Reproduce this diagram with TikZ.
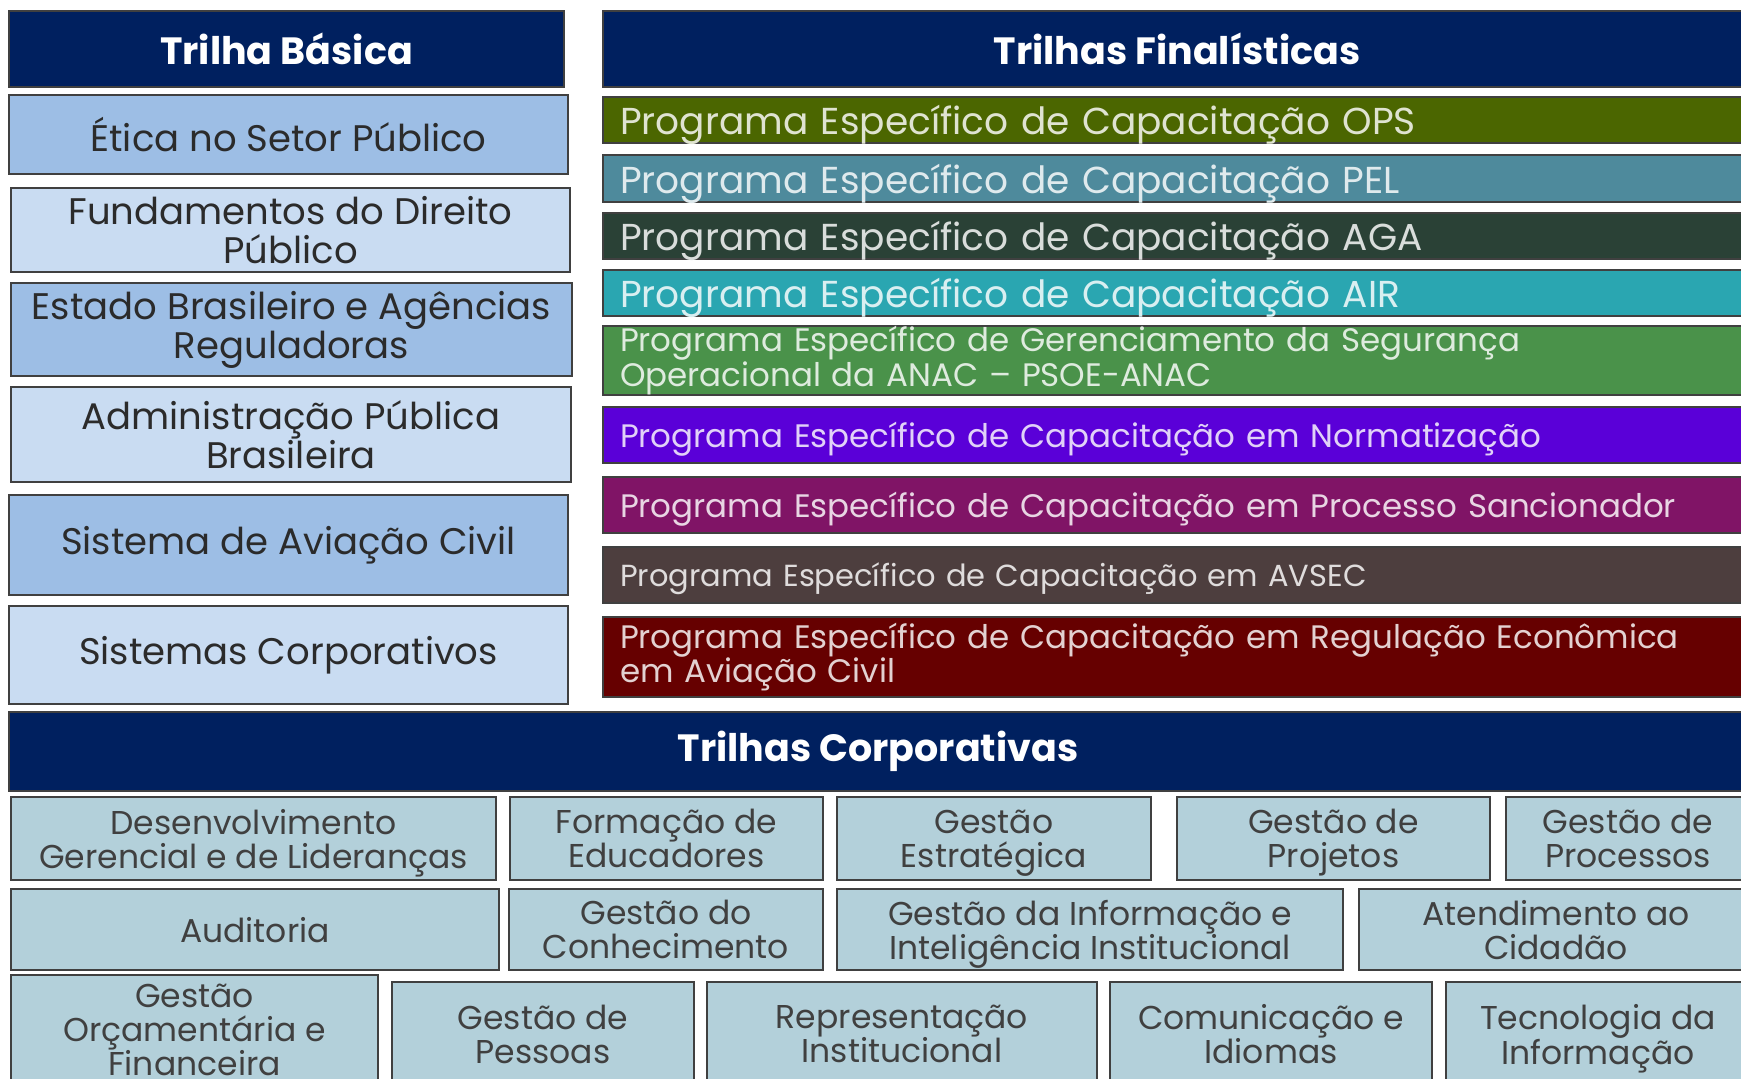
\documentclass[tikz,border=0pt]{standalone}
\usepackage{fontspec}
\setmainfont{Poppins}
\definecolor{navy}{HTML}{00205F}
\definecolor{bdark}{HTML}{9DBEE5}
\definecolor{blight}{HTML}{C9DCF2}
\definecolor{corpc}{HTML}{B3D0DA}
\definecolor{opsc}{HTML}{4B6600}
\definecolor{pelc}{HTML}{4E8A9C}
\definecolor{agac}{HTML}{2A4136}
\definecolor{airc}{HTML}{2AA6B1}
\definecolor{psoec}{HTML}{4A924A}
\definecolor{normc}{HTML}{5A00D8}
\definecolor{sancc}{HTML}{801466}
\definecolor{avsecc}{HTML}{4D3E3E}
\definecolor{regc}{HTML}{660000}
\definecolor{bord}{HTML}{404040}
\definecolor{txtd}{HTML}{2B2B2B}
\newcommand\bx[7]{%
  \pgfmathsetmacro\bw{#4-#2}\pgfmathsetmacro\bh{#5-#3}%
  \pgfmathsetmacro\bcx{(#2+#4)/2}\pgfmathsetmacro\bcy{(#3+#5)/2}%
  \node[#6, minimum width=\bw pt, minimum height=\bh pt] (#1) at (\bcx,\bcy) {#7};}
\tikzset{
  boxbase/.style={draw=bord, line width=2.5pt, rectangle, inner sep=0pt, align=center},
  hdr/.style={boxbase, fill=navy},
  hdrtext/.style={text=white, font=\bfseries\fontsize{38}{42}\selectfont, inner sep=0pt},
  basicd/.style={boxbase, fill=bdark, text=txtd, font=\fontsize{37}{39}\selectfont},
  basicl/.style={boxbase, fill=blight, text=txtd, font=\fontsize{37}{39}\selectfont},
  finbase/.style={boxbase, fill=#1, text=white!82!#1, align=left, text width=1123pt,
    inner xsep=17pt},
  fin/.style={finbase=#1, text depth=0pt, font=\fontsize{37.5}{40}\selectfont},
  fins/.style={finbase=#1, text depth=0pt, font=\fontsize{32.5}{33}\selectfont},
  fintwo/.style={finbase=#1, font=\fontsize{32.5}{33}\selectfont},
  corp/.style={boxbase, fill=corpc, text=txtd!90!white, text depth=0pt, font=\fontsize{33}{34}\selectfont},
  corptext/.style={text=txtd!90!white, font=\fontsize{33}{34}\selectfont, align=center, inner sep=0pt, text depth=0pt}
}
\begin{document}
\begin{tikzpicture}[x=1pt,y=-1pt]
\useasboundingbox (0,0) rectangle (1741,1079);
\clip (0,0) rectangle (1741,1079);
% Trilha Basica
\bx{hb}{9}{11}{564}{87}{hdr, hdrtext}{Trilha Básica}
\bx{b1}{9}{95}{568}{174}{basicd}{Ética no Setor Público}
\bx{b2}{11}{188}{570}{272}{basicl}{Fundamentos do Direito\\Público}
\bx{b3}{11}{283}{572}{376}{basicd}{Estado Brasileiro e Agências\\Reguladoras}
\bx{b4}{11}{387}{571}{482}{basicl}{Administração Pública\\Brasileira}
\bx{b5}{9}{495}{568}{595}{basicd}{Sistema de Aviação Civil}
\bx{b6}{9}{606}{568}{704}{basicl}{Sistemas Corporativos}
% Trilhas Finalisticas
\bx{hf}{603}{11}{1760}{87}{hdr}{}
\node[hdrtext] (hft) at (1177,49) {Trilhas Finalísticas};
\bx{f1}{603}{97}{1760}{143}{fin=opsc}{Programa Específico de Capacitação OPS}
\bx{f2}{603}{155}{1760}{202}{fin=pelc}{Programa Específico de Capacitação PEL}
\bx{f3}{603}{213}{1760}{259}{fin=agac}{Programa Específico de Capacitação AGA}
\bx{f4}{603}{270}{1760}{316}{fin=airc}{Programa Específico de Capacitação AIR}
\bx{f5}{603}{326}{1760}{395}{fintwo=psoec}{Programa Específico de Gerenciamento da Segurança\\Operacional da ANAC – PSOE-ANAC}
\bx{f6}{603}{407}{1760}{463}{fins=normc}{Programa Específico de Capacitação em Normatização}
\bx{f7}{603}{477}{1760}{533}{fins=sancc}{Programa Específico de Capacitação em Processo Sancionador}
\bx{f8}{603}{547}{1760}{603}{fins=avsecc, font=\fontsize{30.5}{33}\selectfont}{Programa Específico de Capacitação em AVSEC}
\bx{f9}{603}{617}{1760}{697}{fintwo=regc}{Programa Específico de Capacitação em Regulação Econômica\\em Aviação Civil}
% Trilhas Corporativas
\bx{hc}{9}{712}{1760}{791}{hdr}{}
\node[hdrtext] (hct) at (878,751.5) {Trilhas Corporativas};
\bx{c1}{11}{797}{496}{880}{corp}{Desenvolvimento\\Gerencial e de Lideranças}
\bx{c2}{510}{797}{823}{880}{corp}{Formação de\\Educadores}
\bx{c3}{837}{797}{1151}{880}{corp}{Gestão\\Estratégica}
\bx{c4}{1177}{797}{1490}{880}{corp}{Gestão de\\Projetos}
\bx{c5}{1506}{797}{1770}{880}{corp}{}
\node[corptext] (c5t) at (1628,838.5) {Gestão de\\Processos};
\bx{c6}{11}{889}{499}{970}{corp}{Auditoria}
\bx{c7}{509}{889}{823}{970}{corp}{Gestão do\\Conhecimento}
\bx{c8}{837}{889}{1343}{970}{corp}{Gestão da Informação e\\Inteligência Institucional}
\bx{c9}{1359}{889}{1765}{970}{corp}{}
\node[corptext] (c9t) at (1556,929.5) {Atendimento ao\\Cidadão};
\bx{c10}{11}{975}{378}{1084}{corp}{Gestão\\Orçamentária e\\Financeira}
\bx{c11}{392}{982}{694}{1086}{corp}{Gestão de\\Pessoas}
\bx{c12}{707}{982}{1097}{1086}{corp}{Representação\\Institucional}
\bx{c13}{1110}{982}{1432}{1086}{corp}{Comunicação e\\Idiomas}
\bx{c14}{1446}{982}{1765}{1086}{corp}{}
\node[corptext] (c14t) at (1598,1034) {Tecnologia da\\Informação};
\end{tikzpicture}
\end{document}
